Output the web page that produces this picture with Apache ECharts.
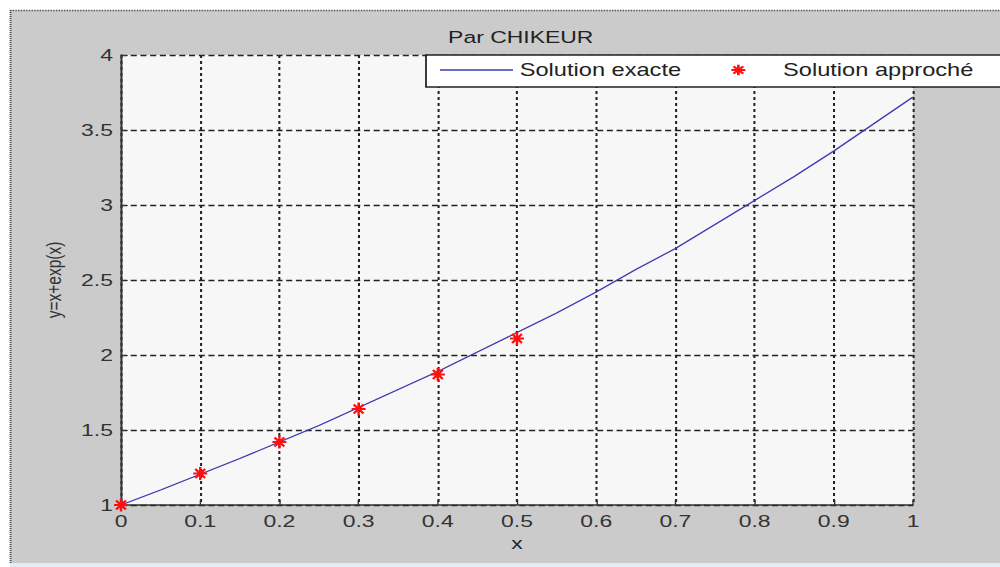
<!DOCTYPE html>
<html>
<head>
<meta charset="utf-8">
<script src="https://cdn.jsdelivr.net/npm/echarts@6/dist/echarts.min.js"></script>
<style>
html,body{margin:0;padding:0;background:#fff;overflow:hidden}
#wrap{width:1000px;height:567px;overflow:hidden;position:relative}
#chart{height:567px;transform-origin:0 0}
</style>
</head>
<body>
<div id="wrap"><div id="chart"></div></div>
<script>
// ---- data ----
const titleText = 'Par CHIKEUR';
const xName = 'x';
const yName = 'y=x+exp(x)';
const seriesNames = ['Solution exacte', 'Solution approché'];
const xExact = [0,0.05,0.1,0.15,0.2,0.25,0.3,0.35,0.4,0.45,0.5,0.55,0.6,0.65,0.7,0.75,0.8,0.85,0.9,0.95,1];
const yExact = [1.00,1.10,1.205,1.31,1.42,1.53,1.65,1.77,1.89,2.02,2.15,2.28,2.42,2.57,2.71,2.87,3.03,3.19,3.36,3.54,3.72];
const xApprox = [0,0.1,0.2,0.3,0.4,0.5];
const yApprox = [1.00,1.21,1.42,1.64,1.87,2.11];

// ---- layout (the reference figure is horizontally stretched) ----
const W = 741;
const S = 1000 / W;
const el = document.getElementById('chart');
el.style.width = W + 'px';
el.style.transform = 'scaleX(' + S + ')';
const X = v => v / S;

const chart = echarts.init(el, null, {renderer: 'svg'});
const font = 'Liberation Sans, Arial, sans-serif';
const asterisk = 'path://M0,5L10,5M5,0L5,10M1.5,1.5L8.5,8.5M1.5,8.5L8.5,1.5';

chart.setOption({
  backgroundColor: '#cbcbcb',
  animation: false,
  title: {
    text: titleText,
    left: X(514), top: 24, textAlign: 'center',
    textStyle: {fontFamily: font, fontSize: 17, fontWeight: 'normal', color: '#222'}
  },
  grid: {
    left: X(121), right: X(1000 - 913), top: 55, bottom: 62,
    show: true, backgroundColor: '#f7f7f7', borderWidth: 0
  },
  xAxis: {
    type: 'value', min: 0, max: 1, interval: 0.1,
    name: xName, nameLocation: 'middle', nameGap: 29,
    nameTextStyle: {fontFamily: font, fontSize: 17, color: '#222'},
    axisLine: {show: true, onZero: false, lineStyle: {color: '#333', width: 1.5}},
    axisTick: {show: true, inside: true, length: 5, lineStyle: {color: '#333'}},
    axisLabel: {margin: 8, fontFamily: font, fontSize: 17, color: '#333'},
    splitLine: {show: true, lineStyle: {color: '#222', type: [3, 3], width: 1.5}}
  },
  yAxis: {
    type: 'value', min: 1, max: 4, interval: 0.5,
    name: yName, nameLocation: 'middle', nameGap: 42, nameRotate: 90,
    nameTextStyle: {fontFamily: font, fontSize: 15.5, color: '#333'},
    axisLine: {show: true, onZero: false, lineStyle: {color: '#333', width: 1.5}},
    axisTick: {show: true, inside: true, length: 5, lineStyle: {color: '#333'}},
    axisLabel: {margin: X(8), fontFamily: font, fontSize: 17, color: '#333'},
    splitLine: {show: true, lineStyle: {color: '#222', type: [4.5, 2.7], width: 1.4}}
  },
  legend: [
    {
      data: [{name: seriesNames[0], icon: 'rect'}], left: X(440), top: 61, padding: 0,
      itemWidth: X(73), itemHeight: 1.4, z: 10,
      textStyle: {fontFamily: font, fontSize: 17.5, color: '#222'}
    },
    {
      data: [seriesNames[1]], left: X(730), top: 61, padding: 0,
      itemWidth: X(14), itemHeight: 13, z: 10,
      itemStyle: {color: 'rgba(0,0,0,0)', borderColor: '#ff1010', borderWidth: 2},
      textStyle: {fontFamily: font, fontSize: 17.5, color: '#222', padding: [0, 0, 0, X(31)]}
    }
  ],
  graphic: [
    {type: 'rect', z: 100, silent: true, shape: {x: 0, y: 0, width: W, height: 10}, style: {fill: '#ffffff'}},
    {type: 'rect', z: 100, silent: true, shape: {x: 0, y: 0, width: X(10), height: 567}, style: {fill: '#ffffff'}},
    {type: 'line', z: 101, silent: true, shape: {x1: X(10), y1: 10.5, x2: W, y2: 10.5}, style: {stroke: '#555', lineWidth: 1.5, lineDash: [1, 1]}},
    {type: 'line', z: 101, silent: true, shape: {x1: X(10.5), y1: 10, x2: X(10.5), y2: 563}, style: {stroke: '#555', lineWidth: 1.5, lineDash: [1, 1]}},
    {type: 'rect', z: 100, silent: true, shape: {x: X(10), y: 563, width: W, height: 4}, style: {fill: '#e4ecf4'}},
    {type: 'rect', z: 5, silent: true, shape: {x: X(426), y: 55, width: X(600), height: 32}, style: {fill: '#ffffff', stroke: '#222', lineWidth: 1.3}}
  ],
  series: [
    {
      name: seriesNames[0], type: 'line', symbol: 'none', z: 3,
      data: xExact.map((x, i) => [x, yExact[i]]),
      lineStyle: {color: '#3b3bb0', width: 1.2},
      itemStyle: {color: '#3b3bb0'}
    },
    {
      name: seriesNames[1], type: 'scatter', z: 4,
      symbol: asterisk, symbolSize: [X(14), 13],
      data: xApprox.map((x, i) => [x, yApprox[i]]),
      itemStyle: {color: 'rgba(0,0,0,0)', borderColor: '#ff1010', borderWidth: 2, opacity: 1}
    }
  ]
});
</script>
</body>
</html>
